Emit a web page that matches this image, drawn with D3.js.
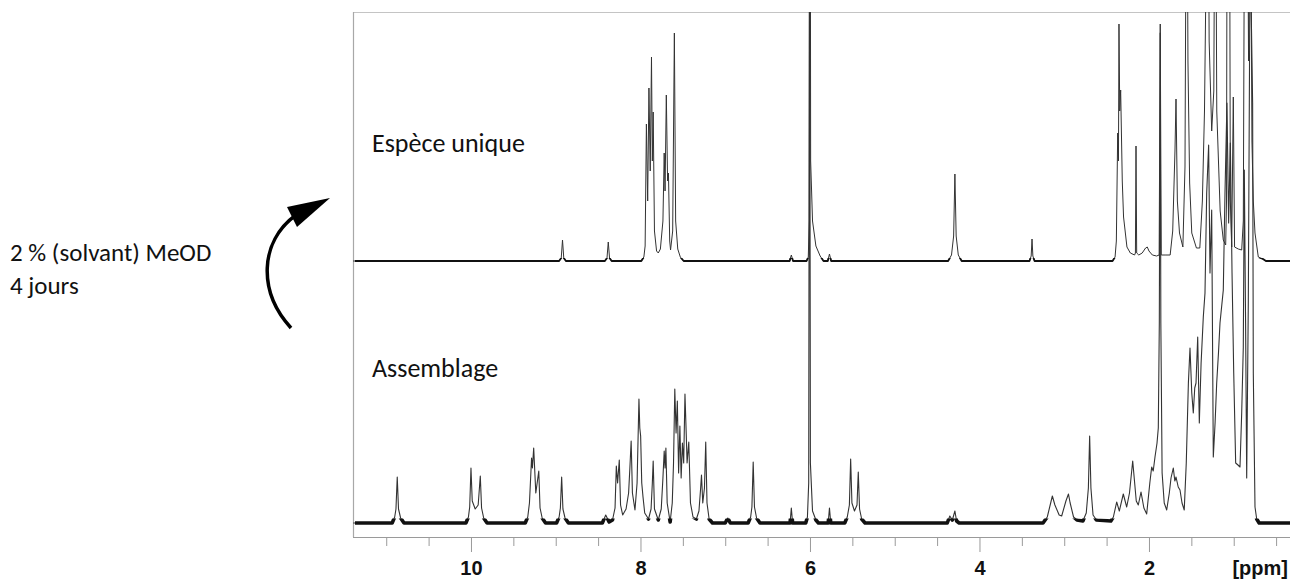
<!DOCTYPE html>
<html><head><meta charset="utf-8">
<script src="https://cdn.jsdelivr.net/npm/d3@7"></script>
<style>body{margin:0;background:#fff}svg{display:block}</style>
</head><body>
<svg id="chart" width="1290" height="580"></svg>
<script>
// ---- data (ppm, intensity a.u.) ----
const majorTicks = [10, 8, 6, 4, 2];
const tickLabels = ["10", "8", "6", "4", "2"];
const minorTicks = [11, 10.5, 9.5, 9, 8.5, 7.5, 7, 6.5, 5.5, 5, 4.5, 3.5, 3, 2.5, 1.5, 1, 0.5];
const axisUnit = "[ppm]";
const spectrumNames = ["Espèce unique", "Assemblage"];
const sideNote = ["2 % (solvant) MeOD", "4 jours"];

const topSpectrum = [
 [11.39,0],[9.0,0],
 [8.96,0],[8.935,3],[8.92,21],[8.905,3],[8.88,0],
 [8.42,0],[8.395,3],[8.38,19],[8.365,3],[8.34,0],
 [7.99,0],[7.96,4],[7.945,15],[7.93,137],[7.915,60],[7.90,173],[7.885,90],[7.87,204],[7.86,100],[7.85,149],[7.835,30],[7.81,10],[7.79,8],
 [7.765,12],[7.735,40],[7.72,108],[7.71,70],[7.695,166],[7.68,80],[7.67,88],[7.655,20],[7.645,11],
 [7.62,30],[7.60,228],[7.585,40],[7.56,12],[7.53,4],[7.49,0],
 [6.24,0],[6.22,6],[6.20,0],
 [6.04,0],[6.02,4],[6.008,40],[6.0,700],[5.992,100],[5.97,40],[5.93,15],[5.88,5],[5.84,0],
 [5.79,0],[5.77,7],[5.75,0],
 [4.37,0],[4.33,6],[4.305,25],[4.29,87],[4.275,25],[4.25,6],[4.21,0],
 [3.41,0],[3.39,5],[3.38,22],[3.37,5],[3.35,0],
 [2.43,0],[2.40,4],[2.385,20],[2.369,128],[2.36,100],[2.354,237],[2.345,150],[2.334,171],[2.315,80],[2.30,44],[2.26,14],[2.22,8],[2.17,6],
 [2.16,8],[2.153,115],[2.145,8],[2.12,6],[2.08,8],[2.04,13],[2.02,14],[2.0,10],[1.96,6],[1.91,5],[1.88,6],[1.867,237],[1.855,6],[1.80,6],[1.75,6],
 [1.72,30],[1.693,111],[1.681,162],[1.665,60],[1.64,28],[1.60,14],
 [1.575,94],[1.555,500],[1.54,200],[1.52,78],[1.495,28],[1.44,13],[1.40,13],[1.37,60],[1.345,150],[1.325,300],[1.307,500],[1.29,220],[1.26,130],[1.235,170],[1.218,500],[1.20,150],[1.16,50],
 [1.123,21],[1.095,16],[1.085,60],[1.076,500],[1.064,300],[1.052,500],[1.04,60],[1.024,14],[1.005,164],[0.99,14],[0.946,12],[0.906,11],[0.887,40],
 [0.867,500],[0.855,400],[0.844,500],[0.825,200],[0.808,500],[0.785,120],[0.769,60],[0.749,28],[0.71,4],[0.655,2],[0.62,0],[0.336,0]
];

const bottomSpectrum = [
 [11.39,0],[10.93,0],[10.90,6],[10.885,14],[10.87,46],[10.855,14],[10.83,5],[10.79,0],
 [10.06,0],[10.03,6],[10.015,16],[10.00,55],[9.985,22],[9.95,14],[9.915,18],[9.89,47],[9.875,15],[9.85,5],[9.81,0],
 [9.36,0],[9.33,6],[9.31,20],[9.285,65],[9.275,55],[9.26,75],[9.235,30],[9.20,52],[9.185,15],[9.16,5],[9.12,0],
 [8.99,0],[8.96,6],[8.945,15],[8.93,46],[8.915,14],[8.89,5],[8.85,0],
 [8.45,0],[8.41,8],[8.37,1],[8.33,3],[8.30,15],[8.285,57],[8.27,40],[8.25,63],[8.235,18],[8.21,8],[8.17,14],[8.14,30],[8.125,55],[8.11,82],[8.095,30],[8.065,13],
 [8.04,40],[8.018,124],[8.008,95],[7.998,87],[7.985,40],[7.97,26],[7.95,10],[7.905,4],[7.875,14],[7.86,40],[7.85,62],[7.835,14],[7.79,3],
 [7.755,14],[7.735,45],[7.72,72],[7.71,55],[7.70,75],[7.685,20],[7.65,1],
 [7.625,20],[7.61,60],[7.595,134],[7.58,90],[7.565,122],[7.55,50],[7.535,97],[7.52,45],[7.505,80],[7.49,60],[7.475,129],[7.46,89],[7.45,60],[7.43,81],[7.41,20],[7.38,6],[7.34,4],
 [7.31,12],[7.29,35],[7.28,48],[7.265,20],[7.245,35],[7.23,81],[7.215,20],[7.19,4],[7.15,0],
 [7.00,0],[6.97,5],[6.94,0],
 [6.73,0],[6.70,6],[6.685,16],[6.67,61],[6.655,16],[6.63,5],[6.59,0],
 [6.235,0],[6.22,15],[6.205,0],
 [6.05,0],[6.03,6],[6.015,40],[6.005,700],[5.995,60],[5.97,12],[5.93,3],[5.90,0],
 [5.785,0],[5.77,15],[5.755,0],
 [5.59,0],[5.56,6],[5.535,18],[5.52,64],[5.505,20],[5.475,12],[5.445,18],[5.43,51],[5.415,14],[5.39,4],[5.35,0],
 [4.38,0],[4.35,7],[4.32,3],[4.29,12],[4.27,2],[4.24,0],
 [3.25,0],[3.20,6],[3.16,20],[3.14,27],[3.11,18],[3.06,8],[3.03,7],[2.98,22],[2.95,29],[2.93,20],[2.89,6],[2.85,3],
 [2.78,2],[2.74,10],[2.715,35],[2.70,87],[2.685,35],[2.66,8],[2.62,3],
 [2.45,2],[2.42,6],[2.381,21],[2.35,12],[2.303,29],[2.263,16],[2.23,30],[2.192,62],[2.15,22],[2.126,18],[2.094,31],[2.06,15],[2.027,9],
 [1.99,40],[1.968,56],[1.95,52],[1.929,66],[1.905,80],[1.89,95],[1.878,200],[1.868,490],[1.86,200],[1.845,50],[1.82,20],[1.791,13],
 [1.76,30],[1.74,45],[1.713,55],[1.695,42],[1.681,46],[1.655,36],[1.634,33],[1.61,20],[1.584,13],
 [1.56,60],[1.535,140],[1.516,175],[1.495,130],[1.477,110],[1.46,135],[1.445,140],[1.425,186],[1.406,100],[1.385,160],[1.359,206],[1.339,230],[1.319,330],[1.296,378],[1.28,250],[1.26,313],[1.241,66],
 [1.22,100],[1.201,140],[1.18,170],[1.162,200],[1.123,233],[1.103,330],[1.08,420],[1.06,300],[1.04,380],[1.02,250],[1.00,150],[0.977,60],[0.95,58],[0.926,56],[0.906,110],[0.887,176],[0.875,353],[0.86,200],[0.847,45],
 [0.828,220],[0.81,520],[0.795,520],[0.777,420],[0.769,150],[0.749,16],[0.729,4],[0.70,0],[0.336,0]
];

// ---- layout ----
const svg = d3.select("#chart");
const frame = {left: 353, right: 1290, top: 12, bottom: 537};
const x = d3.scaleLinear().domain([11.392, 0.336]).range([frame.left, frame.right]);
const yTop = d3.scaleLinear().domain([0, 100]).range([261, 161]);
const yBot = d3.scaleLinear().domain([0, 100]).range([523, 423]);

const defs = svg.append("defs");
defs.append("clipPath").attr("id", "clip")
  .append("rect").attr("x", frame.left).attr("y", frame.top)
  .attr("width", frame.right - frame.left).attr("height", frame.bottom - frame.top);
// narrow bands around each baseline (used to render the noisy-looking baseline thicker)
defs.append("clipPath").attr("id", "bandTop")
  .append("rect").attr("x", frame.left + 2).attr("y", yTop(0) - 3).attr("width", frame.right - frame.left).attr("height", 6);
defs.append("clipPath").attr("id", "bandBot")
  .append("rect").attr("x", frame.left + 2).attr("y", yBot(0) - 4.5).attr("width", frame.right - frame.left).attr("height", 9);

// frame
svg.append("line").attr("x1", frame.left).attr("x2", frame.right).attr("y1", frame.top + 0.5).attr("y2", frame.top + 0.5)
  .attr("stroke", "#c4c4c4").attr("stroke-width", 1.2);
svg.append("line").attr("x1", frame.left + 0.5).attr("x2", frame.left + 0.5).attr("y1", frame.top).attr("y2", frame.bottom)
  .attr("stroke", "#a8a8a8").attr("stroke-width", 1.2);
svg.append("line").attr("x1", frame.left).attr("x2", frame.right).attr("y1", frame.bottom + 0.5).attr("y2", frame.bottom + 0.5)
  .attr("stroke", "#9a9a9a").attr("stroke-width", 1.2);

// spectra
const lineTop = d3.line().x(d => x(d[0])).y(d => yTop(d[1]));
const lineBot = d3.line().x(d => x(d[0])).y(d => yBot(d[1]));
const g = svg.append("g").attr("clip-path", "url(#clip)");
g.append("path").datum(bottomSpectrum).attr("d", lineBot)
  .attr("fill", "none").attr("stroke", "#333").attr("stroke-width", 1.1).attr("stroke-linejoin", "round");
g.append("path").datum(topSpectrum).attr("d", lineTop)
  .attr("fill", "none").attr("stroke", "#333").attr("stroke-width", 1).attr("stroke-linejoin", "round");
// thicker baseline rendering
svg.append("g").attr("clip-path", "url(#bandBot)").append("path").datum(bottomSpectrum).attr("d", lineBot)
  .attr("fill", "none").attr("stroke", "#111").attr("stroke-width", 3.6).attr("stroke-linejoin", "round");
svg.append("g").attr("clip-path", "url(#bandTop)").append("path").datum(topSpectrum).attr("d", lineTop)
  .attr("fill", "none").attr("stroke", "#111").attr("stroke-width", 1.8).attr("stroke-linejoin", "round");

// axis
const axisG = svg.append("g").attr("transform", `translate(0,${frame.bottom + 1})`);
const minorAxis = d3.axisBottom(x).tickValues(minorTicks).tickSize(8).tickFormat("");
const majorAxis = d3.axisBottom(x).tickValues(majorTicks).tickSize(14).tickPadding(9)
  .tickFormat((d, i) => tickLabels[i]);
axisG.append("g").call(minorAxis).call(a => a.select(".domain").remove())
  .selectAll("line").attr("stroke", "#9a9a9a");
const maj = axisG.append("g").call(majorAxis).call(a => a.select(".domain").remove());
maj.selectAll("line").attr("stroke", "#9a9a9a");
maj.selectAll("text").attr("font-family", "'Liberation Sans', Arial, sans-serif")
  .attr("font-weight", "bold").attr("font-size", 20).attr("fill", "#111");
svg.append("text").attr("x", 1288).attr("y", 575).attr("text-anchor", "end")
  .attr("font-family", "'Liberation Sans', Arial, sans-serif").attr("font-weight", "bold")
  .attr("font-size", 20).attr("fill", "#111").text(axisUnit);

// labels
const labFont = "Carlito, Calibri, Lato, sans-serif";
const fs = 26;
svg.append("text").attr("x", 372).attr("y", 152).attr("font-family", labFont).attr("font-size", fs).attr("fill", "#111").text(spectrumNames[0]);
svg.append("text").attr("x", 372).attr("y", 377).attr("font-family", labFont).attr("font-size", fs).attr("fill", "#111").text(spectrumNames[1]);
svg.append("text").attr("x", 10).attr("y", 261).attr("font-family", labFont).attr("font-size", 25).attr("fill", "#111").text(sideNote[0]);
svg.append("text").attr("x", 10).attr("y", 294).attr("font-family", labFont).attr("font-size", 25).attr("fill", "#111").text(sideNote[1]);

// curved arrow
svg.append("path").attr("d", "M291,328 C258,292 259,242 296,215")
  .attr("fill", "none").attr("stroke", "#000").attr("stroke-width", 3.5);
svg.append("path").attr("d", "M330,198 L287,207 L297,227 Z").attr("fill", "#000");
</script>
</body></html>
